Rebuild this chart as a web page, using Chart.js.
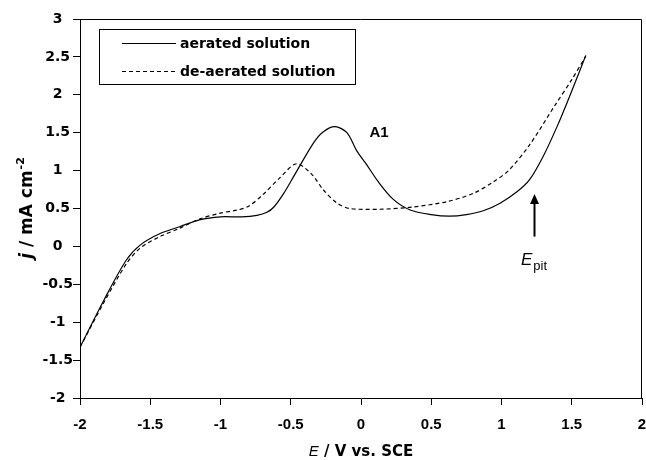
<!DOCTYPE html>
<html>
<head>
<meta charset="utf-8">
<script src="https://cdn.jsdelivr.net/npm/chart.js@4.4.0/dist/chart.umd.min.js"></script>
<style>
html,body{margin:0;padding:0;background:#fff;}
#wrap{width:646px;height:460px;}
</style>
</head>
<body>
<div id="wrap"><canvas id="c" width="646" height="460"></canvas></div>
<script>
// ---- data ----
const seriesNames = ['aerated solution', 'de-aerated solution'];
const aeratedE = [-2, -1.83, -1.67, -1.57, -1.43, -1.29, -1.15, -1.0, -0.85, -0.74, -0.67, -0.62, -0.55, -0.48, -0.34, -0.27, -0.185, -0.10, -0.03, 0.04, 0.12, 0.23, 0.35, 0.5, 0.63, 0.75, 0.87, 0.99, 1.11, 1.2, 1.3, 1.4, 1.5, 1.6];
const aeratedJ = [-1.33, -0.71, -0.18, 0.02, 0.17, 0.26, 0.35, 0.39, 0.39, 0.41, 0.45, 0.52, 0.70, 0.92, 1.36, 1.51, 1.58, 1.50, 1.26, 1.08, 0.86, 0.62, 0.48, 0.42, 0.40, 0.42, 0.47, 0.57, 0.72, 0.88, 1.2, 1.6, 2.05, 2.52];
const deaeratedE = [-2, -1.83, -1.67, -1.57, -1.43, -1.29, -1.15, -1.0, -0.88, -0.8, -0.7, -0.58, -0.46, -0.35, -0.27, -0.17, -0.08, 0.13, 0.37, 0.61, 0.80, 0.94, 1.05, 1.2, 1.38, 1.5, 1.6];
const deaeratedJ = [-1.33, -0.74, -0.23, -0.02, 0.13, 0.24, 0.36, 0.44, 0.48, 0.53, 0.68, 0.90, 1.09, 0.95, 0.75, 0.57, 0.50, 0.49, 0.52, 0.59, 0.70, 0.85, 1.0, 1.34, 1.86, 2.2, 2.51];
const xTickValues = [-2, -1.5, -1, -0.5, 0, 0.5, 1, 1.5, 2];
const xTickLabels = ['-2', '-1.5', '-1', '-0.5', '0', '0.5', '1', '1.5', '2'];
const yTickValues = [-2, -1.5, -1, -0.5, 0, 0.5, 1, 1.5, 2, 2.5, 3];
const yTickLabels = ['-2', '-1.5', '-1', '-0.5', '0', '0.5', '1', '1.5', '2', '2.5', '3'];
const peakLabel = 'A1';
const peakLabelAt = [0.128, 1.5];
const arrowE = 1.233;
const arrowFromJ = 0.13;
const arrowToJ = 0.69;

// ---- helpers ----
function pts(xs, ys) { return xs.map((x, i) => ({x: x, y: ys[i]})); }

const decor = {
  id: 'decor',
  afterDraw(chart) {
    const ctx = chart.ctx;
    const a = chart.chartArea;
    const xs = chart.scales.x, ys = chart.scales.y;
    ctx.save();
    // plot frame (top & right)
    ctx.strokeStyle = '#000';
    ctx.lineWidth = 1;
    ctx.beginPath();
    ctx.moveTo(a.left, a.top + 0.5);
    ctx.lineTo(a.right - 0.5, a.top + 0.5);
    ctx.lineTo(a.right - 0.5, a.bottom);
    ctx.stroke();

    // legend
    const lx = 99.5, ly = 29.5, lw = 256, lh = 55;
    ctx.fillStyle = '#fff';
    ctx.fillRect(lx, ly, lw, lh);
    ctx.strokeStyle = '#000';
    ctx.lineWidth = 1;
    ctx.strokeRect(lx, ly, lw, lh);
    ctx.font = 'bold 14px "DejaVu Sans"';
    ctx.fillStyle = '#000';
    ctx.textBaseline = 'middle';
    ctx.textAlign = 'left';
    const rows = [43, 71];
    chart.data.datasets.forEach((ds, i) => {
      ctx.beginPath();
      ctx.setLineDash(ds.borderDash || []);
      ctx.lineWidth = 1;
      ctx.moveTo(122, rows[i] + 0.5);
      ctx.lineTo(176, rows[i] + 0.5);
      ctx.stroke();
      ctx.setLineDash([]);
      ctx.fillText(ds.label, 180, rows[i] + 1);
    });

    // A1 label
    ctx.font = 'bold 15px "Liberation Sans"';
    ctx.textAlign = 'center';
    ctx.fillText(peakLabel, xs.getPixelForValue(peakLabelAt[0]), ys.getPixelForValue(peakLabelAt[1]));

    // arrow
    const ax = Math.round(xs.getPixelForValue(arrowE)) + 0.5;
    const ay1 = ys.getPixelForValue(arrowFromJ);
    const ay2 = ys.getPixelForValue(arrowToJ);
    ctx.lineWidth = 2;
    ctx.beginPath();
    ctx.moveTo(ax, ay1);
    ctx.lineTo(ax, ay2 + 8);
    ctx.stroke();
    ctx.beginPath();
    ctx.moveTo(ax, ay2);
    ctx.lineTo(ax - 4.5, ay2 + 10);
    ctx.lineTo(ax + 4.5, ay2 + 10);
    ctx.closePath();
    ctx.fill();

    // E_pit label
    ctx.textAlign = 'left';
    ctx.textBaseline = 'alphabetic';
    ctx.font = 'italic 17px "Liberation Sans"';
    ctx.fillText('E', 521, 265);
    const ew = ctx.measureText('E').width;
    ctx.font = '13px "Liberation Sans"';
    ctx.fillText('pit', 521 + ew + 1, 270);

    // x-axis title
    const cx = (a.left + a.right) / 2;
    const ty = 452;
    ctx.font = 'italic 15px "Liberation Sans"';
    const p1 = 'E';
    const w1 = ctx.measureText(p1).width;
    ctx.font = 'bold 15px "DejaVu Sans"';
    const p2 = ' / V vs. SCE';
    const w2 = ctx.measureText(p2).width;
    let sx = cx - (w1 + w2) / 2;
    ctx.textBaseline = 'middle';
    ctx.font = 'italic 15px "Liberation Sans"';
    ctx.fillText(p1, sx, ty);
    ctx.font = 'bold 15px "DejaVu Sans"';
    ctx.fillText(p2, sx + w1, ty);

    // y-axis title (rotated)
    ctx.translate(28, (a.top + a.bottom) / 2);
    ctx.rotate(-Math.PI / 2);
    ctx.font = 'bold italic 17px "DejaVu Sans"';
    const q1 = 'j';
    const v1 = ctx.measureText(q1).width;
    ctx.font = 'bold 17px "DejaVu Sans"';
    const q2 = ' / mA cm';
    const v2 = ctx.measureText(q2).width;
    ctx.font = 'bold 11px "DejaVu Sans"';
    const q3 = '-2';
    const v3 = ctx.measureText(q3).width;
    let s = -(v1 + v2 + v3) / 2;
    ctx.font = 'bold italic 17px "DejaVu Sans"';
    ctx.fillText(q1, s, 0);
    ctx.font = 'bold 17px "DejaVu Sans"';
    ctx.fillText(q2, s + v1, 0);
    ctx.font = 'bold 11px "DejaVu Sans"';
    ctx.fillText(q3, s + v1 + v2 + 1, -7);
    ctx.restore();
  }
};

new Chart(document.getElementById('c'), {
  type: 'scatter',
  data: {
    datasets: [
      {
        label: seriesNames[0],
        data: pts(aeratedE, aeratedJ),
        showLine: true,
        borderColor: '#000',
        borderWidth: 1.2,
        pointRadius: 0,
        tension: 0.3,
        fill: false
      },
      {
        label: seriesNames[1],
        data: pts(deaeratedE, deaeratedJ),
        showLine: true,
        borderColor: '#000',
        borderWidth: 1.2,
        borderDash: [4, 3],
        pointRadius: 0,
        tension: 0.3,
        fill: false
      }
    ]
  },
  options: {
    responsive: false,
    animation: false,
    devicePixelRatio: 1,
    layout: { padding: { top: 19, right: 4, left: 0, bottom: 0 } },
    plugins: { legend: { display: false }, tooltip: { enabled: false } },
    scales: {
      x: {
        type: 'linear',
        min: -2, max: 2,
        afterBuildTicks(scale) { scale.ticks = xTickValues.map(v => ({value: v})); },
        afterFit(scale) { scale.height = 62; scale.paddingLeft = 0; scale.paddingRight = 0; },
        ticks: {
          color: '#000',
          font: { family: '"Liberation Sans"', size: 15, weight: 'bold' },
          padding: 11,
          maxRotation: 0,
          autoSkip: false,
          callback: (v) => { const i = xTickValues.indexOf(v); return i >= 0 ? xTickLabels[i] : ''; }
        },
        grid: { display: true, drawOnChartArea: false, drawTicks: true, tickLength: 7, color: '#000' },
        border: { display: true, color: '#000', width: 1 }
      },
      y: {
        type: 'linear',
        min: -2, max: 3,
        afterBuildTicks(scale) { scale.ticks = yTickValues.map(v => ({value: v})); },
        afterFit(scale) { scale.width = 80; scale.paddingTop = 0; scale.paddingBottom = 0; },
        ticks: {
          color: '#000',
          font: { family: '"DejaVu Sans"', size: 14, weight: 'bold' },
          padding: 0,
          crossAlign: 'center',
          autoSkip: false,
          callback: (v) => { const i = yTickValues.indexOf(v); return i >= 0 ? yTickLabels[i] : ''; }
        },
        grid: { display: true, drawOnChartArea: false, drawTicks: true, tickLength: 7, color: '#000' },
        border: { display: true, color: '#000', width: 1 }
      }
    }
  },
  plugins: [decor]
});
</script>
</body>
</html>
